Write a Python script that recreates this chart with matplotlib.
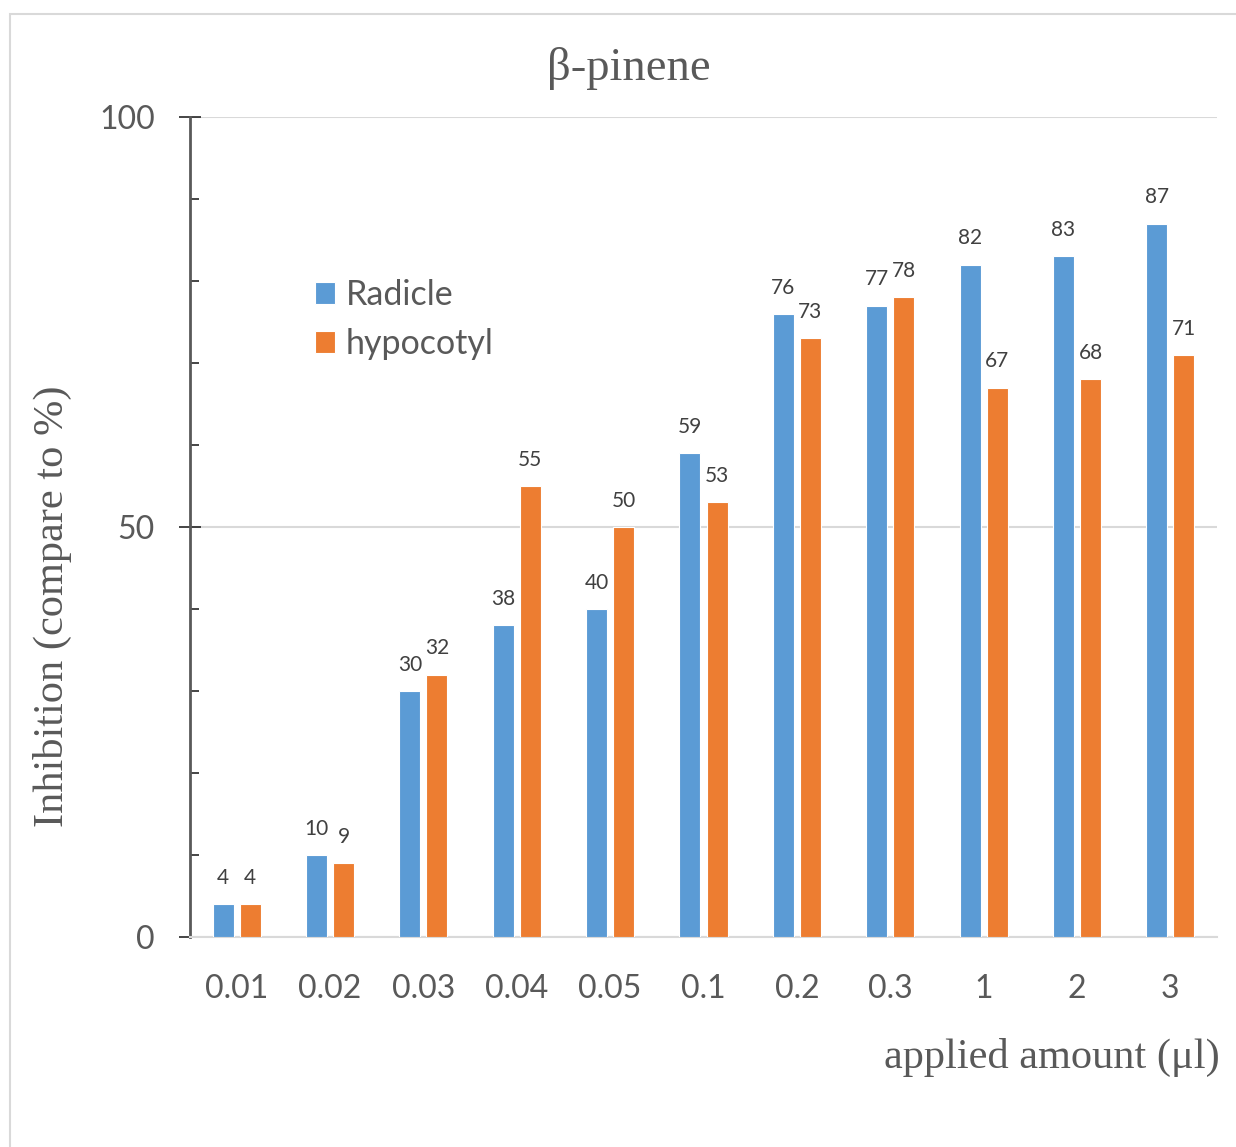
import numpy as np
import matplotlib
matplotlib.use("Agg")
import matplotlib.pyplot as plt
from matplotlib.patches import Rectangle

# Daten: Hemmung von Radicula und Hypokotyl durch beta-Pinen
amounts = ["0.01", "0.02", "0.03", "0.04", "0.05", "0.1", "0.2", "0.3", "1", "2", "3"]
radicle = [4, 10, 30, 38, 40, 59, 76, 77, 82, 83, 87]
hypocotyl = [4, 9, 32, 55, 50, 53, 73, 78, 67, 68, 71]

BLUE = "#5B9BD5"
ORANGE = "#ED7D31"
GREY_TXT = "#595959"
GRID = "#D9D9D9"

W, H = 1236, 1147
fig = plt.figure(figsize=(W / 100, H / 100), dpi=100)

# heller Rahmen um das Diagramm
fig.patches.append(Rectangle((10 / W, -0.1), 2.0, 1 - 14 / H + 0.1,
                             transform=fig.transFigure, fill=False,
                             edgecolor=GRID, linewidth=1.5))

ax = fig.add_axes([190 / W, 1 - 937 / H, (1217 - 190) / W, (937 - 117) / H])

x = np.arange(len(amounts))
bw = 0.225
off = 0.145
b1 = ax.bar(x - off, radicle, bw, color=BLUE, edgecolor="white", linewidth=0.8, label="Radicle", zorder=3)
b2 = ax.bar(x + off, hypocotyl, bw, color=ORANGE, edgecolor="white", linewidth=0.8, label="hypocotyl", zorder=3)

# Werte über den Balken
for bars, vals in ((b1, radicle), (b2, hypocotyl)):
    for rect, v in zip(bars, vals):
        ax.annotate(f"{v}", (rect.get_x() + rect.get_width() / 2, v),
                    xytext=(0, 14.5), textcoords="offset points",
                    ha="center", va="baseline", fontsize=15,
                    family="Lato", color="#404040")

ax.set_xlim(-0.5, len(amounts) - 0.5)
ax.set_ylim(0, 100)

# nur 0/50/100 beschriftet, Hilfsstriche alle 10
ax.set_yticks([0, 50, 100])
ax.set_yticklabels(["0", "50", "100"])
ax.set_yticks(np.arange(10, 100, 10), minor=True)
ax.yaxis.grid(True, which="major", color=GRID, linewidth=1.5, zorder=0)
ax.tick_params(axis="y", which="major", direction="inout", length=16.5, width=1.2,
               color="#262626", pad=17, labelsize=23, labelcolor=GREY_TXT)
ax.tick_params(axis="y", which="minor", direction="in", length=6.5, width=1.2,
               color="#262626")
for lab in ax.get_yticklabels():
    lab.set_family("Lato")

ax.set_xticks(x)
ax.set_xticklabels(amounts)
ax.tick_params(axis="x", length=0, pad=26.5, labelsize=23, labelcolor=GREY_TXT)
for lab in ax.get_xticklabels():
    lab.set_family("Lato")

for side in ("top", "right"):
    ax.spines[side].set_visible(False)
ax.spines["left"].set_color("#595959")
ax.spines["left"].set_linewidth(2)
ax.spines["bottom"].set_color(GRID)
ax.spines["bottom"].set_linewidth(1.5)

serif = ["Liberation Serif", "DejaVu Serif"]
ax.set_ylabel("Inhibition (compare to %)", fontsize=30.5, family=serif,
              color=GREY_TXT, va="center")
ax.yaxis.set_label_coords((52 - 190) / 1027, (937 - 606) / 820)
ax.set_xlabel("applied amount (μl)", fontsize=30.5, family=serif,
              color=GREY_TXT, ha="right", va="center")
ax.xaxis.set_label_coords((1220 - 190) / 1027, -(1057 - 937) / 820)

fig.text(629 / W, 1 - 68 / H, "β-pinene", fontsize=33.5, family=serif,
         color=GREY_TXT, ha="center", va="center")

leg = ax.legend(loc="upper left", bbox_to_anchor=((315 - 190) / 1027, (937 - 279) / 820),
                frameon=False, borderpad=0, borderaxespad=0,
                handlelength=0.6, handleheight=0.6, handletextpad=0.3,
                labelspacing=0.5, prop={"family": "Lato", "size": 24.5})
for t in leg.get_texts():
    t.set_color(GREY_TXT)

fig.savefig("out.png", dpi=100)
